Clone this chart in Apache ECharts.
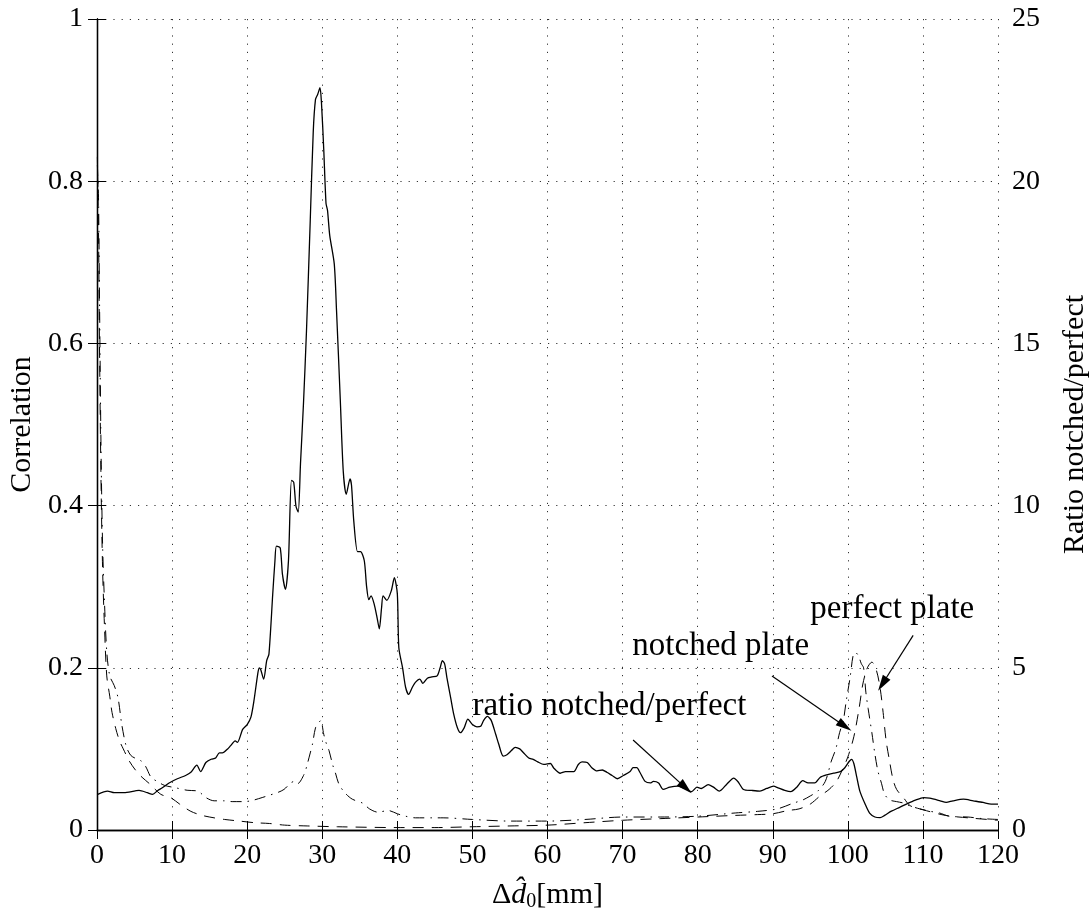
<!DOCTYPE html>
<html>
<head>
<meta charset="utf-8">
<script src="https://cdn.jsdelivr.net/npm/echarts@6/dist/echarts.min.js"></script>
<style>html,body{margin:0;padding:0;background:#fff;}#c{width:1089px;height:922px;}</style>
</head>
<body>
<div id="c"></div>
<script>
// ---- data ----
var xTicks = [0, 120, 10];
var leftTicks = [0, 1, 0.2];
var rightTicks = [0, 25, 5];

// ratio notched/perfect (solid, right axis)
var ratioX = [0.1,1.4,2.3,3.6,5.6,6.7,7.4,8.1,8.7,9.6,10.7,11.8,12.5,13.3,13.8,14.5,15.2,15.8,16.3,16.7,17.4,17.8,18.4,18.7,19.4,20.0,20.5,20.9,21.4,21.6,21.8,22.2,22.6,22.9,23.4,23.7,23.9,24.4,24.7,25.1,25.5,25.9,26.2,26.5,26.8,27.1,27.5,27.9,28.4,28.8,29.1,29.4,29.7,29.9,30.2,30.5,30.7,31.0,31.6,31.9,32.4,32.8,33.2,33.7,33.9,34.2,34.7,35.1,35.6,35.9,36.2,36.5,36.9,37.3,37.6,37.9,38.1,38.6,39.2,39.6,40.0,40.2,40.7,41.1,41.5,42.0,42.4,43.0,43.4,44.0,44.6,45.3,45.7,46.0,46.3,46.6,47.1,47.5,48.0,48.4,48.9,49.4,50.0,50.6,51.1,51.5,52.0,52.5,53.1,53.5,54.1,54.6,55.2,55.7,56.3,56.8,57.5,58.1,58.7,59.5,60.4,60.8,61.7,62.4,63.5,64.1,64.6,65.3,65.9,66.6,67.3,67.9,68.6,69.3,70.1,71.0,71.4,71.9,72.3,73.0,73.7,74.1,74.8,75.4,76.3,77.4,78.3,79.2,79.9,80.5,81.4,82.1,82.9,83.9,84.8,85.4,86.1,87.2,88.3,89.2,90.1,90.7,91.6,92.4,93.2,94.0,94.7,95.6,96.3,97.2,98.1,99.0,99.6,100.2,100.5,100.8,101.2,101.6,102.3,102.9,103.6,104.3,104.9,105.8,106.9,107.8,109.0,110.1,110.9,112.3,113.1,114.0,115.4,116.7,118.0,119.1,120.0];
var ratioY = [1.10,1.20,1.15,1.15,1.22,1.15,1.10,1.22,1.30,1.45,1.58,1.68,1.78,2.00,1.80,2.08,2.18,2.22,2.38,2.38,2.50,2.60,2.75,2.70,3.10,3.25,3.48,3.98,4.80,5.00,4.95,4.65,5.22,5.42,7.25,8.30,8.75,8.70,7.88,7.42,8.30,10.78,10.72,9.98,9.80,11.28,13.15,15.38,18.78,21.52,22.52,22.68,22.88,22.40,20.98,19.32,19.10,18.32,17.45,16.02,13.28,11.05,10.35,10.82,10.62,9.52,8.58,8.58,8.30,7.52,7.10,7.22,6.98,6.55,6.20,6.85,7.22,7.08,7.38,7.78,7.28,5.62,5.00,4.40,4.18,4.40,4.55,4.65,4.52,4.68,4.72,4.75,5.00,5.22,5.12,4.70,4.08,3.58,3.15,3.00,3.15,3.42,3.25,3.18,3.20,3.38,3.50,3.38,2.95,2.65,2.28,2.32,2.45,2.55,2.50,2.38,2.22,2.18,2.10,2.02,2.05,1.92,1.75,1.80,1.80,2.02,2.10,2.08,1.92,1.82,1.85,1.78,1.68,1.58,1.68,1.80,1.92,1.92,1.78,1.50,1.45,1.50,1.45,1.25,1.32,1.35,1.28,1.18,1.32,1.28,1.40,1.32,1.20,1.42,1.60,1.48,1.25,1.22,1.20,1.28,1.35,1.30,1.22,1.18,1.32,1.52,1.45,1.45,1.62,1.70,1.75,1.80,1.92,2.12,2.18,2.05,1.62,1.20,0.80,0.52,0.40,0.38,0.45,0.58,0.70,0.80,0.92,1.00,0.98,0.90,0.85,0.90,0.95,0.90,0.85,0.80,0.80];

// notched plate (dash-dot, left axis)
var notchedX = [0.05,0.2,0.35,0.55,0.75,1.0,1.3,1.7,2.3,2.8,3.3,3.9,4.5,5.2,5.9,6.5,7.2,8.0,9.0,10.5,12.0,13.4,14.5,15.6,16.9,18.0,19.5,20.5,22.0,23.0,24.0,24.9,25.8,26.3,26.7,27.6,28.0,28.4,28.7,29.1,29.5,29.8,30.2,30.6,30.9,31.4,31.8,32.2,33.0,34.0,35.4,36.3,37.4,38.8,40.0,41.1,42.4,44.8,46.1,50,55,60,65,70,75,80,85,88,90.6,92.7,94,95,96,97,97.8,98.4,98.9,99.4,99.8,100.3,100.7,101.0,101.4,101.8,102.1,102.4,102.7,103.2,103.6,104.0,104.5,104.9,105.6,106.5,107.5,108.2,109.6,111,112.2,113.5,116,118,120];
var notchedY = [0.82,0.78,0.64,0.46,0.35,0.28,0.22,0.19,0.178,0.163,0.13,0.103,0.092,0.088,0.085,0.078,0.065,0.06,0.055,0.052,0.049,0.048,0.04,0.036,0.036,0.035,0.035,0.036,0.04,0.043,0.046,0.05,0.058,0.06,0.057,0.069,0.081,0.095,0.106,0.126,0.132,0.135,0.118,0.105,0.098,0.08,0.069,0.057,0.046,0.038,0.033,0.026,0.022,0.024,0.02,0.017,0.015,0.015,0.015,0.013,0.011,0.011,0.013,0.016,0.016,0.017,0.021,0.023,0.026,0.033,0.037,0.042,0.048,0.06,0.085,0.1,0.12,0.135,0.16,0.188,0.215,0.219,0.215,0.205,0.2,0.17,0.15,0.12,0.094,0.073,0.057,0.044,0.037,0.035,0.033,0.03,0.026,0.023,0.021,0.017,0.016,0.014,0.013];

// perfect plate (dashed, left axis)
var perfectX = [0.05,0.2,0.35,0.55,0.75,1.0,1.3,1.7,2.0,2.5,3.0,3.5,4.3,5.2,6.0,7.0,8.5,9.8,11,12.5,14,15.6,17,19,21,23,25,28,32,40,45,50,55,60,65,70,75,80,85,88,90,92,93.5,95,96.3,97.5,98.5,99.3,100,100.8,101.5,102,102.6,103.2,103.8,104.3,104.7,105.1,105.5,106,106.5,107.4,108.3,110,113,116,120];
var perfectY = [0.83,0.74,0.58,0.42,0.32,0.25,0.19,0.165,0.145,0.125,0.11,0.1,0.085,0.073,0.065,0.057,0.044,0.04,0.032,0.023,0.018,0.015,0.013,0.011,0.009,0.008,0.006,0.005,0.004,0.003,0.003,0.004,0.005,0.006,0.009,0.012,0.014,0.016,0.018,0.019,0.02,0.024,0.026,0.032,0.042,0.05,0.06,0.075,0.09,0.115,0.15,0.18,0.2,0.207,0.197,0.175,0.145,0.11,0.088,0.063,0.05,0.04,0.03,0.025,0.018,0.015,0.012];

// annotations: [label, textX, textY, arrowFromX, arrowFromY, arrowToX, arrowToY]
var annotations = [
  ['ratio notched/perfect', 50.0, 0.153, 71.4, 0.111, 78.4, 0.052],
  ['notched plate', 71.3, 0.227, 89.9, 0.19, 99.6, 0.128],
  ['perfect plate', 95.0, 0.272, 108.7, 0.24, 104.6, 0.18]
];

function zip(a, b) { return a.map(function (v, i) { return [v, b[i]]; }); }

var FONT = 'Liberation Serif';
var chart = echarts.init(document.getElementById('c'), null, {renderer: 'canvas'});

var gridSplit = {show: true, lineStyle: {color: '#333', type: [1.2, 7], width: 1}};
var axLine = {show: true, lineStyle: {color: '#000', width: 1.3}};
var tickIn = {show: true, inside: true, length: 9, lineStyle: {color: '#000', width: 1}};
var lblStyle = {color: '#000', fontFamily: FONT, fontSize: 28};

var arrowData = annotations.map(function (a) {
  return [{coord: [a[3], a[4]], symbol: 'none'}, {coord: [a[5], a[6]], symbol: 'triangle'}];
});

var option = {
  animation: false,
  backgroundColor: '#fff',
  grid: {left: 97, right: 91, top: 19, bottom: 92, containLabel: false, outerBoundsMode: 'none'},
  xAxis: [
    {type: 'value', min: xTicks[0], max: xTicks[1], interval: xTicks[2], position: 'bottom',
     axisLine: axLine, axisTick: tickIn, splitLine: gridSplit,
     axisLabel: Object.assign({margin: 12}, lblStyle),
     name: '{d|Δ}{i|d\u0302}{s|0}{d|[mm]}', nameLocation: 'middle', nameGap: 48,
     nameTextStyle: {rich: {
       d: {fontFamily: FONT, fontSize: 30, color: '#000'},
       i: {fontFamily: FONT, fontStyle: 'italic', fontSize: 30, color: '#000'},
       s: {fontFamily: FONT, fontSize: 20, color: '#000', padding: [14, 0, 0, 0]}
     }}},
    {type: 'value', min: xTicks[0], max: xTicks[1], interval: xTicks[2], position: 'top',
     axisLine: axLine, axisTick: tickIn, splitLine: {show: false}, axisLabel: {show: false}}
  ],
  yAxis: [
    {type: 'value', min: leftTicks[0], max: leftTicks[1], interval: leftTicks[2], position: 'left',
     axisLine: axLine, axisTick: tickIn, splitLine: gridSplit,
     axisLabel: Object.assign({margin: 14}, lblStyle),
     name: 'Correlation', nameLocation: 'middle', nameGap: 60, nameRotate: 90,
     nameTextStyle: {color: '#000', fontFamily: FONT, fontSize: 30}},
    {type: 'value', min: rightTicks[0], max: rightTicks[1], interval: rightTicks[2], position: 'right',
     axisLine: axLine, axisTick: tickIn, splitLine: {show: false},
     axisLabel: Object.assign({margin: 14}, lblStyle),
     name: 'Ratio notched/perfect', nameLocation: 'middle', nameGap: 62, nameRotate: 90,
     nameTextStyle: {color: '#000', fontFamily: FONT, fontSize: 30}}
  ],
  series: [
    {name: 'perfect plate', type: 'line', xAxisIndex: 0, yAxisIndex: 0, data: zip(perfectX, perfectY),
     showSymbol: false, smooth: 0.3, lineStyle: {color: '#000', width: 1, type: [11, 8]}},
    {name: 'notched plate', type: 'line', xAxisIndex: 0, yAxisIndex: 0, data: zip(notchedX, notchedY),
     showSymbol: false, smooth: 0.3, lineStyle: {color: '#000', width: 1, type: [11, 6, 1.5, 6]},
     markLine: {silent: true, symbolSize: [9, 16], animation: false,
       lineStyle: {color: '#000', width: 1.2, type: 'solid'}, label: {show: false},
       emphasis: {disabled: true}, data: arrowData}},
    {name: 'ratio notched/perfect', type: 'line', xAxisIndex: 0, yAxisIndex: 1, data: zip(ratioX, ratioY),
     showSymbol: false, smooth: 0.25, lineStyle: {color: '#000', width: 1.3, type: 'solid'}}
  ]
};
chart.setOption(option);

var graphics = annotations.map(function (a) {
  var p = chart.convertToPixel({xAxisIndex: 0, yAxisIndex: 0}, [a[1], a[2]]);
  return {type: 'text', x: p[0], y: p[1], silent: true,
    style: {text: a[0], fill: '#000', font: '33px "' + FONT + '"', textAlign: 'left', textVerticalAlign: 'middle'}};
});
chart.setOption({graphic: graphics});
</script>
</body>
</html>
